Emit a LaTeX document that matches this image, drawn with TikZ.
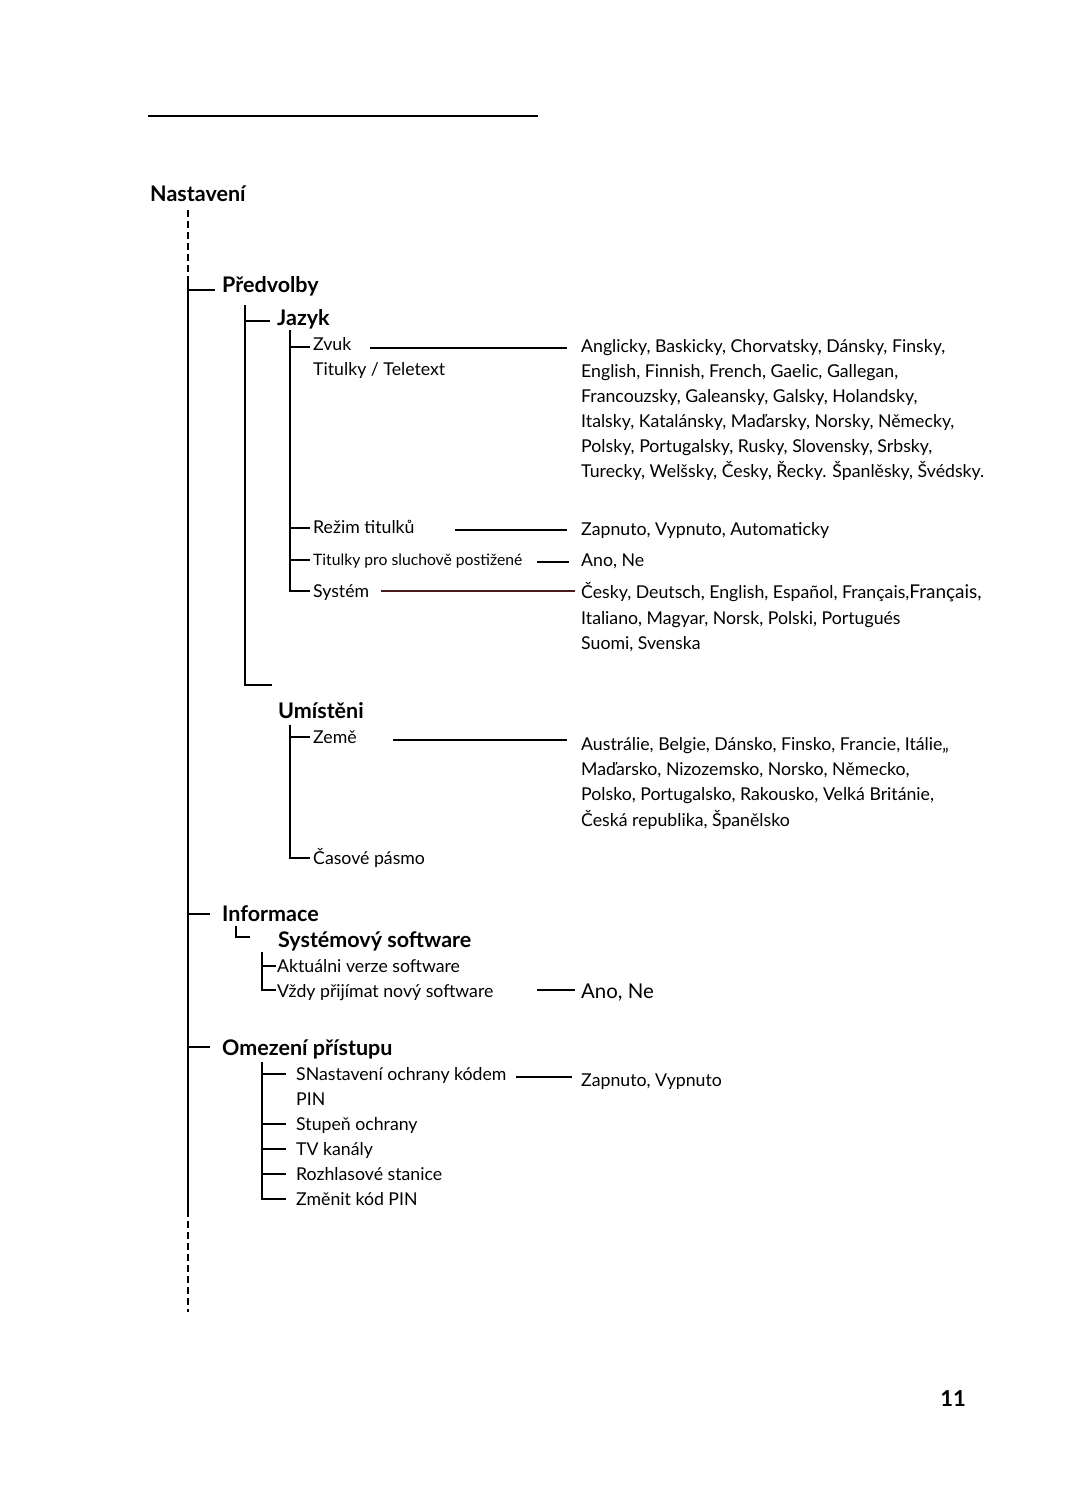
\documentclass[tikz,border=0pt]{standalone}
\usepackage{fontspec}
\setmainfont{Lato}
\definecolor{sysline}{RGB}{72,28,30}

\tikzset{
  tree/.style={line width=1.6pt},
  link/.style={line width=1.6pt},
  dashline/.style={line width=1.6pt,dash pattern=on 7pt off 4pt},
  txt/.style={anchor=base west,inner sep=0pt,font=\fontsize{17.7}{20}\selectfont},
  smalltxt/.style={anchor=base west,inner sep=0pt,font=\fontsize{15.7}{18}\selectfont},
  bigtxt/.style={anchor=base west,inner sep=0pt,font=\fontsize{20.4}{22}\selectfont},
  head/.style={anchor=base west,inner sep=0pt,font=\fontsize{21.5}{24}\selectfont\bfseries},
}

\begin{document}
\begin{tikzpicture}[x=1pt,y=-1pt]
\useasboundingbox (0,0) rectangle (1080,1491);

% rule on top
\draw[line width=1.5pt] (148,116)--(538,116);

% headings
\node[head] (nast) at (150,201) {Nastavení};
\node[head] (predv) at (222,292) {Předvolby};
\node[head] (jazyk) at (277,325) {Jazyk};
\node[head] (umist) at (278,718) {Umístěni};
\node[head] (info) at (222,921) {Informace};
\node[head] (syssw) at (278,947) {Systémový software};
\node[head] (omez) at (222,1055) {Omezení přístupu};

% main line
\draw[dashline] (188,210)--(188,276);
\draw[tree] (188,276)--(188,1210);
\draw[dashline] (188,1210)--(188,1312);

\draw[tree] (188,290)--(215,290);
\draw[tree] (188,914)--(210,914);
\draw[tree] (188,1047)--(210,1047);

% Jazyk
\draw[tree] (245,305)--(245,685)--(272,685);
\draw[tree] (245,321)--(270,321);
\draw[tree] (290,330)--(290,591)--(310,591);
\draw[tree] (290,347)--(310,347);
\draw[tree] (290,528)--(310,528);
\draw[tree] (290,560)--(310,560);

\node[txt] (zvuk) at (313,350) {Zvuk};
\node[txt] (teletext) at (313,375) {Titulky / Teletext};
\node[txt] (rezim) at (313,533) {Režim titulků};
\node[smalltxt] (sluch) at (313,565) {Titulky pro sluchově postižené};
\node[txt] (system) at (313,597) {Systém};

\node[txt] (jaz1) at (581,352) {Anglicky, Baskicky, Chorvatsky, Dánsky, Finsky,};
\node[txt] (jaz2) at (581,377) {English, Finnish, French, Gaelic, Gallegan,};
\node[txt] (jaz3) at (581,402) {Francouzsky, Galeansky, Galsky, Holandsky,};
\node[txt] (jaz4) at (581,427) {Italsky, Katalánsky, Maďarsky, Norsky, Německy,};
\node[txt] (jaz5) at (581,452) {Polsky, Portugalsky, Rusky, Slovensky, Srbsky,};
\node[txt] (jaz6) at (581,477) {Turecky, Welšsky, Česky, Řecky. Španlěsky, Švédsky.};
\node[txt] (rezimval) at (581,535) {Zapnuto, Vypnuto, Automaticky};
\node[txt] (sluchval) at (581,566) {Ano, Ne};
\node[txt] (sys1) at (581,598) {Česky, Deutsch, English, Español, Français,{\fontsize{19}{20}\selectfont Français,}};
\node[txt] (sys2) at (581,624) {Italiano, Magyar, Norsk, Polski, Portugués};
\node[txt] (sys3) at (581,649) {Suomi, Svenska};

\path (370,348) coordinate (zvukA) (567,348) coordinate (zvukB);
\path (455,530) coordinate (rezimA) (567,530) coordinate (rezimB);
\path (537,562) coordinate (sluchA) (569,562) coordinate (sluchB);
\path (381,591) coordinate (sysA) (575,591) coordinate (sysB);
\draw[link] (zvukA)--(zvukB);
\draw[link] (rezimA)--(rezimB);
\draw[link] (sluchA)--(sluchB);
\draw[link,sysline] (sysA)--(sysB);

% Umisteni
\draw[tree] (290,725)--(290,858)--(310,858);
\draw[tree] (290,737)--(310,737);
\node[txt] (zeme) at (313,743) {Země};
\node[txt] (cas) at (313,864) {Časové pásmo};
\node[txt] (zem1) at (581,750) {Austrálie, Belgie, Dánsko, Finsko, Francie, Itálie,,};
\node[txt] (zem2) at (581,775) {Maďarsko, Nizozemsko, Norsko, Německo,};
\node[txt] (zem3) at (581,800) {Polsko, Portugalsko, Rakousko, Velká Británie,};
\node[txt] (zem4) at (581,826) {Česká republika, Španělsko};
\path (393,740) coordinate (zemeA) (567,740) coordinate (zemeB);
\draw[link] (zemeA)--(zemeB);

% Informace
\draw[line width=1.3pt] (236,926)--(236,937)--(250,937);
\draw[tree] (262,952)--(262,990)--(276,990);
\draw[tree] (262,966)--(276,966);
\node[txt] (aktual) at (277,972) {Aktuálni verze software};
\node[txt] (vzdy) at (277,997) {Vždy přijímat nový software};
\node[bigtxt] (vzdyval) at (581,998) {Ano, Ne};
\path (537,990) coordinate (vzdyA) (575,990) coordinate (vzdyB);
\draw[link] (vzdyA)--(vzdyB);

% Omezeni pristupu
\draw[tree] (262,1062)--(262,1199)--(286,1199);
\draw[tree] (262,1074)--(286,1074);
\draw[tree] (262,1124)--(286,1124);
\draw[tree] (262,1149)--(286,1149);
\draw[tree] (262,1174)--(286,1174);
\node[txt] (pin1) at (296,1080) {SNastavení ochrany kódem};
\node[txt] (pin2) at (296,1105) {PIN};
\node[txt] (stupen) at (296,1130) {Stupeň ochrany};
\node[txt] (tvk) at (296,1155) {TV kanály};
\node[txt] (rozhl) at (296,1180) {Rozhlasové stanice};
\node[txt] (zmenit) at (296,1205) {Změnit kód PIN};
\node[txt] (pinval) at (581,1086) {Zapnuto, Vypnuto};
\path (516,1077) coordinate (pinA) (572,1077) coordinate (pinB);
\draw[link] (pinA)--(pinB);

% page number
\node[font=\fontsize{22}{24}\selectfont\bfseries,inner sep=0pt] (page) at (953,1399) {11};

\end{tikzpicture}
\end{document}
